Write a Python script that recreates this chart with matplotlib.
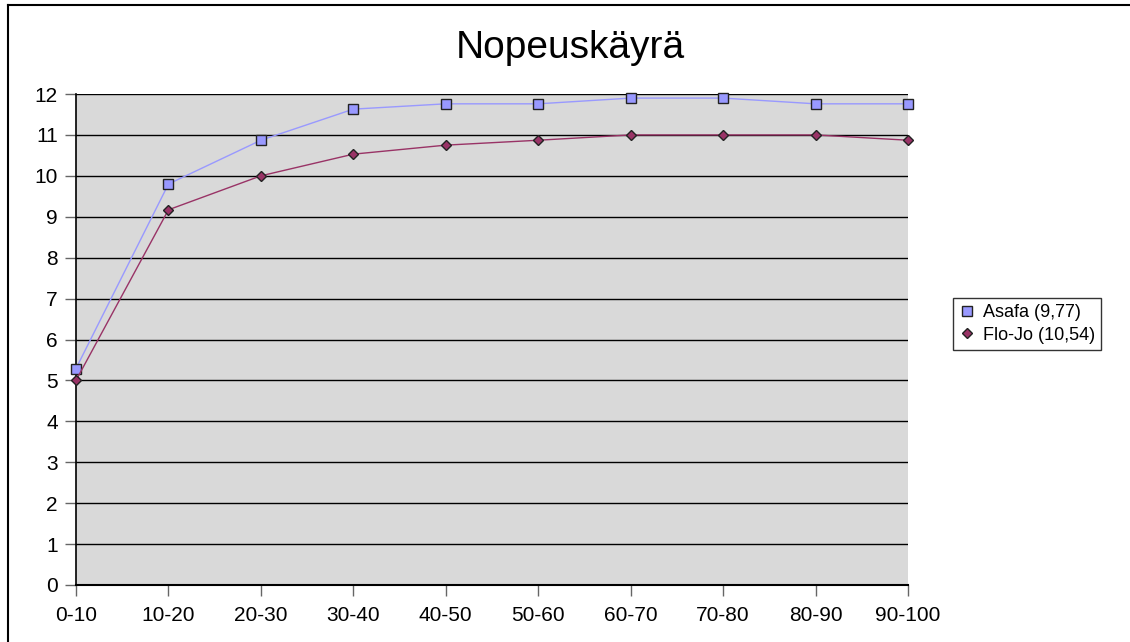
import matplotlib
matplotlib.use("Agg")
import matplotlib.pyplot as plt
from matplotlib.lines import Line2D

plt.rcParams['font.family'] = ['Liberation Sans', 'DejaVu Sans']

# data
segments = ['0-10', '10-20', '20-30', '30-40', '40-50', '50-60',
            '60-70', '70-80', '80-90', '90-100']
asafa = [5.29, 9.80, 10.87, 11.63, 11.76, 11.76, 11.90, 11.90, 11.76, 11.76]
flojo = [5.00, 9.17, 10.00, 10.53, 10.75, 10.87, 11.00, 11.00, 11.00, 10.87]
series_names = ['Asafa (9,77)', 'Flo-Jo (10,54)']
y_ticks = list(range(0, 13))

fig = plt.figure(figsize=(11.3, 6.42), dpi=100)
ax = fig.add_axes([76 / 1130, 57 / 642, 832 / 1130, 491 / 642])
ax.set_facecolor('#d9d9d9')

x = list(range(len(segments)))
ax.plot(x, asafa, color='#9999ff', lw=1, marker='s', ms=7,
        mfc='#9999ff', mec='#222222', mew=1, label=series_names[0],
        zorder=3, clip_on=False)
ax.plot(x, flojo, color='#993366', lw=1, marker='D', ms=5.5,
        mfc='#993366', mec='#222222', mew=1, label=series_names[1],
        zorder=3, clip_on=False)

ax.set_xlim(0, len(segments) - 1)
ax.set_ylim(0, 12)
ax.set_xticks(x)
ax.set_xticklabels(segments)
ax.set_yticks(y_ticks)
ax.tick_params(axis='both', labelsize=15, direction='out', length=8,
               width=1, color='#666666')
ax.tick_params(axis='x', pad=7)
ax.tick_params(axis='y', pad=5)

ax.grid(axis='y', color='black', lw=1)
ax.set_axisbelow(True)
for s in ['top', 'right']:
    ax.spines[s].set_visible(False)
ax.spines['left'].set_color('black')
ax.spines['bottom'].set_color('black')
ax.spines['left'].set_linewidth(1.2)
ax.spines['bottom'].set_linewidth(1.5)

fig.text(570 / 1130, 1 - 58 / 642, 'Nopeuskäyrä', ha='center', va='baseline',
         fontsize=28)

leg = ax.legend(loc='center left', bbox_to_anchor=(953 / 1130, 1 - 324 / 642),
                bbox_transform=fig.transFigure, fontsize=13, frameon=True,
                fancybox=False, borderpad=0.35, handlelength=0.8,
                handletextpad=0.5, labelspacing=0.3, borderaxespad=0)
leg.get_frame().set_edgecolor('black')
leg.get_frame().set_linewidth(1)
for h in leg.get_lines():
    h.set_linestyle('none')

# outer frame (only top and left edges visible in the picture)
fig.add_artist(Line2D([8 / 1130, 1], [1 - 5 / 642, 1 - 5 / 642],
                      color='black', lw=1.5, transform=fig.transFigure))
fig.add_artist(Line2D([8 / 1130, 8 / 1130], [0, 1 - 5 / 642],
                      color='black', lw=1.5, transform=fig.transFigure))

fig.savefig('out.png', dpi=100, facecolor='white')
